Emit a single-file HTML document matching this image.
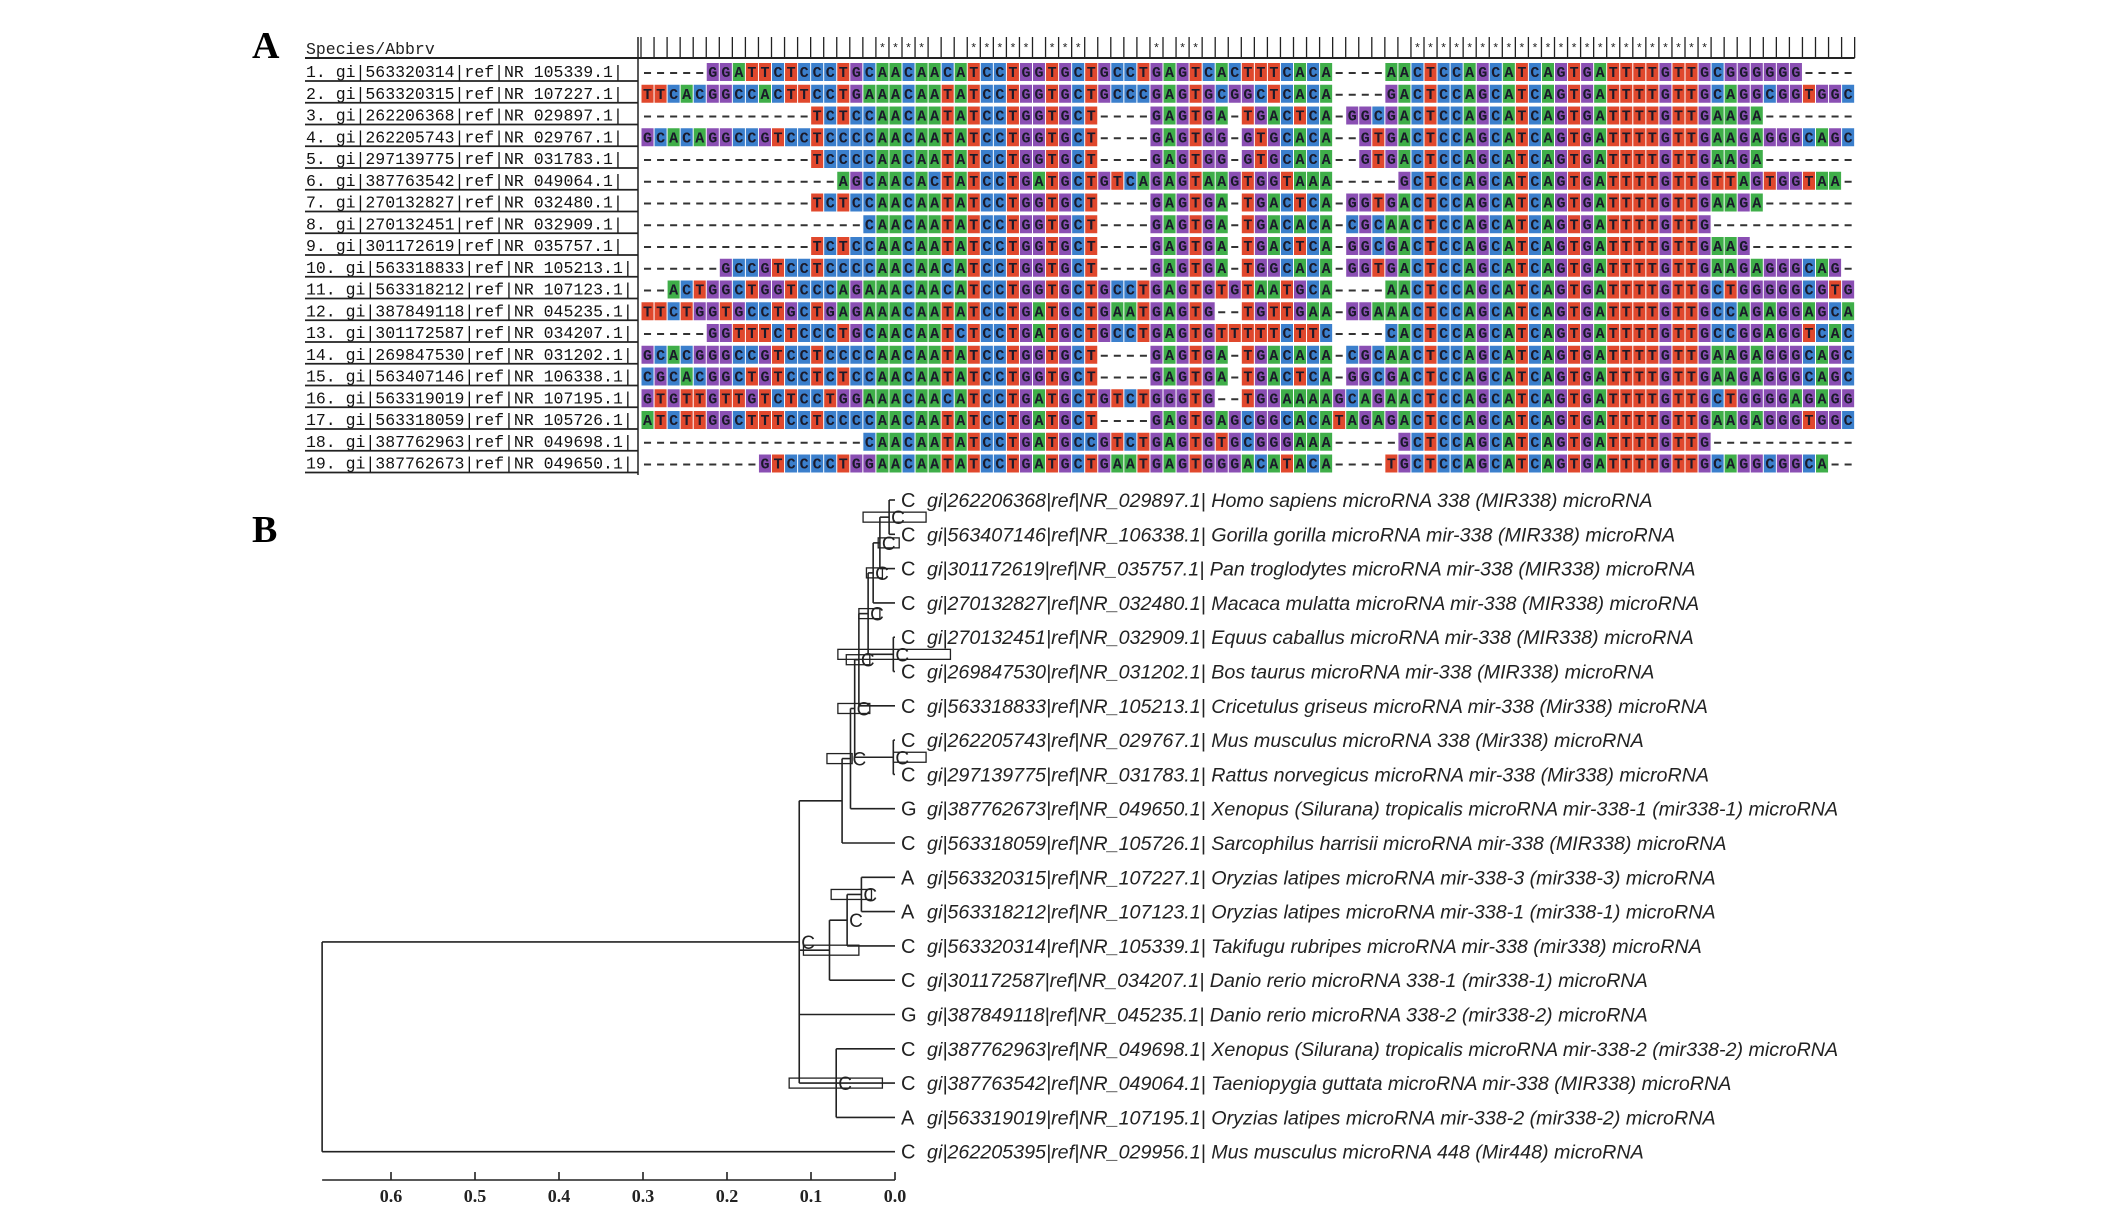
<!DOCTYPE html>
<html><head><meta charset="utf-8"><style>
html,body{margin:0;padding:0;background:#fff;}
svg{display:block;}
</style></head><body>
<svg id="fig" width="2126" height="1211" viewBox="0 0 2126 1211" xmlns="http://www.w3.org/2000/svg">
<text x="252" y="58" font-family="Liberation Serif, serif" font-weight="bold" font-size="38">A</text>
<text x="252" y="542" font-family="Liberation Serif, serif" font-weight="bold" font-size="38">B</text>
<g id="aln"></g>
<g id="tree"></g>
</svg>
<script>
const seqLabels = ["1. gi|563320314|ref|NR 105339.1|","2. gi|563320315|ref|NR 107227.1|","3. gi|262206368|ref|NR 029897.1|","4. gi|262205743|ref|NR 029767.1|","5. gi|297139775|ref|NR 031783.1|","6. gi|387763542|ref|NR 049064.1|","7. gi|270132827|ref|NR 032480.1|","8. gi|270132451|ref|NR 032909.1|","9. gi|301172619|ref|NR 035757.1|","10. gi|563318833|ref|NR 105213.1|","11. gi|563318212|ref|NR 107123.1|","12. gi|387849118|ref|NR 045235.1|","13. gi|301172587|ref|NR 034207.1|","14. gi|269847530|ref|NR 031202.1|","15. gi|563407146|ref|NR 106338.1|","16. gi|563319019|ref|NR 107195.1|","17. gi|563318059|ref|NR 105726.1|","18. gi|387762963|ref|NR 049698.1|","19. gi|387762673|ref|NR 049650.1|"];
const seqs = [
"-----GGATTCTCCCTGCAACAACATCCTGGTGCT"+"GCCTGAGTCACTTTCACA----AACTCCAGCATCAGTGATTTTGTTGCGGGGGG----",
"TTCACGGCCACTTCCTGAAACAATATCCTGGTGCT"+"GCCCGAGTGCGGCTCACA----GACTCCAGCATCAGTGATTTTGTTGCAGGCGGTGGC",
"-------------TCTCCAACAATATCCTGGTGCT"+"----GAGTGA-TGACTCA-GGCGACTCCAGCATCAGTGATTTTGTTGAAGA-------",
"GCACAGGCCGTCCTCCCCAACAATATCCTGGTGCT"+"----GAGTGG-GTGCACA--GTGACTCCAGCATCAGTGATTTTGTTGAAGAGGGCAGC",
"-------------TCCCCAACAATATCCTGGTGCT"+"----GAGTGG-GTGCACA--GTGACTCCAGCATCAGTGATTTTGTTGAAGA-------",
"---------------AGCAACACTATCCTGATGCT"+"GTCAGAGTAAGTGGTAAA-----GCTCCAGCATCAGTGATTTTGTTGTTAGTGGTAA-",
"-------------TCTCCAACAATATCCTGGTGCT"+"----GAGTGA-TGACTCA-GGTGACTCCAGCATCAGTGATTTTGTTGAAGA-------",
"-----------------CAACAATATCCTGGTGCT"+"----GAGTGA-TGACACA-CGCAACTCCAGCATCAGTGATTTTGTTG-----------",
"-------------TCTCCAACAATATCCTGGTGCT"+"----GAGTGA-TGACTCA-GGCGACTCCAGCATCAGTGATTTTGTTGAAG--------",
"------GCCGTCCTCCCCAACAACATCCTGGTGCT"+"----GAGTGA-TGGCACA-GGTGACTCCAGCATCAGTGATTTTGTTGAAGAGGGCAG-",
"--ACTGGCTGGTCCCAGAAACAACATCCTGGTGCT"+"GCCTGAGTGTGTAATGCA----AACTCCAGCATCAGTGATTTTGTTGCTGGGGGCGTG",
"TTCTGGTGCCTGCTGAGAAACAATATCCTGATGCT"+"GAATGAGTG--TGTTGAA-GGAAACTCCAGCATCAGTGATTTTGTTGCCAGAGGAGCA",
"-----GGTTTCTCCCTGCAACAATCTCCTGATGCT"+"GCCTGAGTGTTTTTCTTC----CACTCCAGCATCAGTGATTTTGTTGCCGGAGGTCAC",
"GCACGGGCCGTCCTCCCCAACAATATCCTGGTGCT"+"----GAGTGA-TGACACA-CGCAACTCCAGCATCAGTGATTTTGTTGAAGAGGGCAGC",
"CGCACGGCTGTCCTCTCCAACAATATCCTGGTGCT"+"----GAGTGA-TGACTCA-GGCGACTCCAGCATCAGTGATTTTGTTGAAGAGGGCAGC",
"GTGTTGTTGTCTCCTGGAAACAACATCCTGATGCT"+"GTCTGGGTG--TGGAAAAGCAGAACTCCAGCATCAGTGATTTTGTTGCTGGGGAGAGG",
"ATCTTGGCTTTCCTCCCCAACAATATCCTGATGCT"+"----GAGTGAGCGGCACATAGAGACTCCAGCATCAGTGATTTTGTTGAAGAGGGTGGC",
"-----------------CAACAATATCCTGATGCC"+"GTCTGAGTGTGCGGGAAA-----GCTCCAGCATCAGTGATTTTGTTG-----------",
"---------GTCCCCTGGAACAATATCCTGATGCT"+"GAATGAGTGGGACATACA----TGCTCCAGCATCAGTGATTTTGTTGCAGGCGGCA--"
];
const tipStates = ["C","C","C","C","C","C","C","C","C","G","C","A","A","C","C","G","C","C","A","C"];
const tipLabels = ["Homo sapiens microRNA 338 (MIR338) microRNA","Gorilla gorilla microRNA mir-338 (MIR338) microRNA","Pan troglodytes microRNA mir-338 (MIR338) microRNA","Macaca mulatta microRNA mir-338 (MIR338) microRNA","Equus caballus microRNA mir-338 (MIR338) microRNA","Bos taurus microRNA mir-338 (MIR338) microRNA","Cricetulus griseus microRNA mir-338 (Mir338) microRNA","Mus musculus microRNA 338 (Mir338) microRNA","Rattus norvegicus microRNA mir-338 (Mir338) microRNA","Xenopus (Silurana) tropicalis microRNA mir-338-1 (mir338-1) microRNA","Sarcophilus harrisii microRNA mir-338 (MIR338) microRNA","Oryzias latipes microRNA mir-338-3 (mir338-3) microRNA","Oryzias latipes microRNA mir-338-1 (mir338-1) microRNA","Takifugu rubripes microRNA mir-338 (mir338) microRNA","Danio rerio microRNA 338-1 (mir338-1) microRNA","Danio rerio microRNA 338-2 (mir338-2) microRNA","Xenopus (Silurana) tropicalis microRNA mir-338-2 (mir338-2) microRNA","Taeniopygia guttata microRNA mir-338 (MIR338) microRNA","Oryzias latipes microRNA mir-338-2 (mir338-2) microRNA","Mus musculus microRNA 448 (Mir448) microRNA"];
const tipIds = ["gi|262206368|ref|NR_029897.1|","gi|563407146|ref|NR_106338.1|","gi|301172619|ref|NR_035757.1|","gi|270132827|ref|NR_032480.1|","gi|270132451|ref|NR_032909.1|","gi|269847530|ref|NR_031202.1|","gi|563318833|ref|NR_105213.1|","gi|262205743|ref|NR_029767.1|","gi|297139775|ref|NR_031783.1|","gi|387762673|ref|NR_049650.1|","gi|563318059|ref|NR_105726.1|","gi|563320315|ref|NR_107227.1|","gi|563318212|ref|NR_107123.1|","gi|563320314|ref|NR_105339.1|","gi|301172587|ref|NR_034207.1|","gi|387849118|ref|NR_045235.1|","gi|387762963|ref|NR_049698.1|","gi|387763542|ref|NR_049064.1|","gi|563319019|ref|NR_107195.1|","gi|262205395|ref|NR_029956.1|"];
const nodeIds = ["g","f","e","eb","d","c","mr","b","a","m","o","p","q","r","ing","root"];
const nodeDepths = [0.007,0.018,0.026,0.002,0.032,0.043,0.002,0.048,0.053,0.063,0.040,0.057,0.078,0.070,0.114,0.682];
const nodeChildren = [["t0","t1"],["g","t2"],["f","t3"],["t4","t5"],["e","eb"],["d","t6"],["t7","t8"],["c","mr"],["b","t9"],["a","t10"],["t11","t12"],["o","t13"],["p","t14"],["t16","t17","t18"],["m","q","t15","r"],["ing","t19"]];
const hpdLow = {g:-0.037,f:-0.005,e:0.015,eb:-0.066,d:0.018,c:0.030,mr:-0.037,b:0.030,a:0.051,o:0.028,q:0.043,r:0.015};
const hpdHigh = {g:0.038,f:0.020,e:0.034,eb:0.068,d:0.043,c:0.058,mr:0.002,b:0.068,a:0.081,o:0.076,q:0.109,r:0.126};
const nodeStates = {g:"C",f:"C",e:"C",eb:"C",d:"C",c:"C",mr:"C",b:"C",a:"C",o:"C",p:"C",r:"C",ing:"C"};
const axisTicks = [0.0,0.1,0.2,0.3,0.4,0.5,0.6];
const axisMax = 0.682;

const NS="http://www.w3.org/2000/svg";
function mk(tag,attrs,parent,text){const e=document.createElementNS(NS,tag);for(const k in attrs)e.setAttribute(k,attrs[k]);if(text!==undefined)e.textContent=text;parent.appendChild(e);return e;}

// ---------- Alignment ----------
const aln=document.getElementById('aln');
const colors={A:"#3fae49",C:"#3b7fcc",G:"#8a4fb3",T:"#e0482d"};
const x0=641, cw=13.05, rowY0=72, rowH=21.75, cellH=18;
const ncol=Math.max(...seqs.map(s=>s.length));
let hdr=mk('text',{x:306,y:54,'font-family':'Liberation Mono, monospace','font-size':'16.5',fill:'#222'},aln,'Species/Abbrv');


mk('line',{x1:305,y1:58,x2:x0+ncol*cw,y2:58,stroke:'#222','stroke-width':2},aln);
mk('line',{x1:638,y1:37,x2:638,y2:475,stroke:'#222','stroke-width':1.5},aln);
for(let c=0;c<=ncol;c++){
  const tk=mk('line',{x1:x0+c*cw,y1:37,x2:x0+c*cw,y2:58,stroke:'#222','stroke-width':1.3},aln);
  
  
}
for(let c=0;c<ncol;c++){
  const ch=seqs[0][c];
  if(ch!=='-'&&seqs.every(s=>s[c]===ch)){
    const st=mk('text',{x:x0+c*cw+cw/2,y:52,'text-anchor':'middle','font-family':'Liberation Mono, monospace','font-size':'12',fill:'#222'},aln,'*');
    
    
  }
}
seqs.forEach((s,r)=>{
  const cy=rowY0+r*rowH;
  const lb=mk('text',{x:306,y:cy+5,'font-family':'Liberation Mono, monospace','font-size':'16.5',fill:'#111'},aln,seqLabels[r]);
  
  
  mk('line',{x1:305,y1:cy+9,x2:638,y2:cy+9,stroke:'#222','stroke-width':1.8},aln);
  for(let c=0;c<s.length;c++){
    const ch=s[c];const x=x0+c*cw;
    if(ch==='-'){
      mk('line',{x1:x+3,y1:cy+1,x2:x+cw-3,y2:cy+1,stroke:'#333','stroke-width':2},aln);
    }else{
      const cell=mk('rect',{x:x+0.5,y:cy-cellH/2,width:cw-1,height:cellH,fill:colors[ch]},aln);
      
      
      mk('text',{x:x+cw/2,y:cy+5,'text-anchor':'middle','font-family':'Liberation Mono, monospace','font-weight':'bold','font-size':'15',fill:'#1a1a2a'},aln,ch);
    }
  }
});

// ---------- Tree ----------
const tree=document.getElementById('tree');
const X=v=>895-840*v;
const tipY0=500, tipDy=34.3;
const info={};
tipStates.forEach((s,i)=>{info['t'+i]={d:0,y:tipY0+i*tipDy};});
nodeIds.forEach((id,i)=>{
  const ys=nodeChildren[i].map(c=>info[c].y);
  info[id]={d:nodeDepths[i],y:(Math.min(...ys)+Math.max(...ys))/2};
});
nodeIds.forEach(id=>{
  if(hpdLow[id]===undefined)return;
  const n=info[id];
  const bx=mk('rect',{x:X(hpdHigh[id]),y:n.y-5,width:X(hpdLow[id])-X(hpdHigh[id]),height:10,fill:'none',stroke:'#222','stroke-width':1.3},tree);
  
  
});
nodeIds.forEach((id,i)=>{
  const n=info[id];const ys=nodeChildren[i].map(c=>info[c].y);
  const v=mk('line',{x1:X(n.d),y1:Math.min(...ys),x2:X(n.d),y2:Math.max(...ys),stroke:'#222','stroke-width':1.6},tree);
  
  
  nodeChildren[i].forEach(c=>{
    const h=mk('line',{x1:X(n.d),y1:info[c].y,x2:X(info[c].d),y2:info[c].y,stroke:'#222','stroke-width':1.6},tree);
    
    
  });
  if(nodeStates[id]){
    const t=mk('text',{x:X(n.d)+2,y:n.y+7,'font-family':'Liberation Sans, sans-serif','font-size':'19',fill:'#222'},tree,nodeStates[id]);
    
    
  }
});
tipStates.forEach((s,i)=>{
  const y=info['t'+i].y;
  const st=mk('text',{x:901,y:y+7,'font-family':'Liberation Sans, sans-serif','font-size':'20',fill:'#222'},tree,s);
  
  
  const t=mk('text',{x:927,y:y+7,'font-family':'Liberation Sans, sans-serif','font-style':'italic','font-size':'19.7',fill:'#222'},tree,tipIds[i]+' '+tipLabels[i]);
  
  
});
const ax=mk('line',{x1:X(axisMax),y1:1180,x2:X(0),y2:1180,stroke:'#222','stroke-width':1.6},tree);


axisTicks.forEach(v=>{
  const tk=mk('line',{x1:X(v),y1:1172,x2:X(v),y2:1180,stroke:'#222','stroke-width':1.6},tree);
  
  
  const tl=mk('text',{x:X(v),y:1202,'text-anchor':'middle','font-family':'Liberation Serif, serif','font-weight':'bold','font-size':'18',fill:'#222'},tree,v.toFixed(1));
  
  
});
</script>
</body></html>
